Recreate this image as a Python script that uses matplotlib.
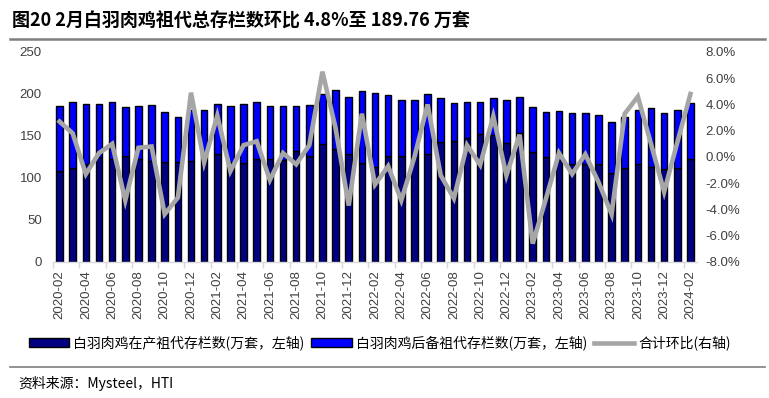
import matplotlib
matplotlib.use("Agg")
import matplotlib.pyplot as plt
from matplotlib.lines import Line2D
from matplotlib.patches import Patch
import numpy as np

plt.rcParams['font.family'] = ['Liberation Sans', 'Noto Sans CJK SC', 'DejaVu Sans']

months = [f"{y}-{m:02d}" for y in range(2020, 2025) for m in range(1, 13)]
months = [m for m in months if "2020-02" <= m <= "2024-02"]

producing = [108.5, 112, 117, 125, 123, 126, 123, 120, 118.5, 118.5,
             120, 127, 129, 119, 118, 123, 122.6, 121.5, 132.5, 126,
             141, 134.5, 128, 118, 113.5, 126.5, 126, 125, 128, 142.5,
             144, 148, 152, 151, 142, 154, 131, 125.5, 121, 117,
             116.3, 117, 105.6, 112.3, 116.7, 113.5, 110.7, 112.3, 122.6]

total = [186, 190, 187.7, 187.7, 190, 184, 185.7, 186.5, 179, 173,
         181.5, 181, 187.7, 185.7, 187.7, 190, 186, 186, 186, 187.3,
         199.6, 204.8, 196.8, 203.6, 200.8, 198.8, 192.5, 192.5, 200, 195.6,
         189, 190.9, 190, 195.6, 193.3, 196.8, 184.1, 179, 180.2, 177.4,
         177.4, 175.4, 167, 173, 181, 183, 177.8, 181, 189.76]

reserve = [round(t - p, 2) for t, p in zip(total, producing)]

mom_pct = [2.7, 1.8, -1.3, 0.3, 1.0, -3.3, 0.7, 0.8, -4.35, -3.1,
           4.9, -0.4, 3.15, -1.07, 0.9, 1.2, -1.75, 0.3, -0.56, 0.9,
           6.5, 2.2, -3.7, 3.3, -2.1, -0.7, -3.3, 0.0, 4.0, -1.4,
           -3.15, 0.9, -0.6, 3.1, -1.4, 1.7, -6.6, -3.2, 0.3, -1.3,
           0.2, -1.9, -4.35, 3.3, 4.6, 1.0, -2.65, 1.1, 4.8]

title = "图20 2月白羽肉鸡祖代总存栏数环比 4.8%至 189.76 万套"
legend_labels = ["白羽肉鸡在产祖代存栏数(万套，左轴)", "白羽肉鸡后备祖代存栏数(万套，左轴)", "合计环比(右轴)"]
source = "资料来源：Mysteel，HTI"

W, H = 769, 398
fig = plt.figure(figsize=(W / 100, H / 100), dpi=100)
ax = fig.add_axes([53 / W, 1 - 262 / H, (697 - 53) / W, (262 - 52) / H])

x = np.arange(len(months))
c_dark = "#000080"
c_blue = "#0000FF"
c_gray = "#A6A6A6"
tick_color = "#404040"

ax.bar(x, producing, width=0.5, color=c_dark, edgecolor="black", linewidth=1.0, zorder=2)
ax.bar(x, reserve, bottom=producing, width=0.5, color=c_blue, edgecolor="black", linewidth=1.0, zorder=2)
ax.set_xlim(-0.5, len(months) - 0.5)
ax.set_ylim(0, 250)
ax.set_yticks(np.arange(0, 251, 50))
ax.tick_params(axis='y', length=0, labelsize=9.5, labelcolor=tick_color, pad=8)

ax.set_xticks(x[::2])
ax.set_xticklabels(months[::2], rotation=90, fontsize=9.5, color=tick_color)
ax.set_xticks(np.arange(-0.5, len(months), 2), minor=True)
ax.tick_params(axis='x', which='major', length=0, pad=6)
ax.tick_params(axis='x', which='minor', length=4, color="#D9D9D9", width=1)

for s in ['top', 'left', 'right']:
    ax.spines[s].set_visible(False)
ax.spines['bottom'].set_color("#D9D9D9")
ax.spines['bottom'].set_linewidth(1)

ax2 = ax.twinx()
ax2.plot(x, mom_pct, color=c_gray, linewidth=3.3, solid_joinstyle='miter', zorder=3)
ax2.set_ylim(-8, 8)
ax2.set_yticks(np.arange(-8, 8.1, 2))
ax2.set_yticklabels([f"{v:.1f}%" for v in np.arange(-8, 8.1, 2)])
ax2.tick_params(axis='y', length=0, labelsize=9.5, labelcolor=tick_color, pad=6)
for s in ['top', 'left', 'right', 'bottom']:
    ax2.spines[s].set_visible(False)

handles = [Patch(facecolor=c_dark, edgecolor="black", linewidth=1.0),
           Patch(facecolor=c_blue, edgecolor="black", linewidth=1.0),
           Line2D([0], [0], color=c_gray, linewidth=3.3)]
fig.legend(handles, legend_labels, loc='center', bbox_to_anchor=(0.494, 1 - 343 / H), ncol=3,
           frameon=False, handlelength=2.9, handleheight=0.6, handletextpad=0.3,
           columnspacing=0.5, prop={'family': ['Noto Sans CJK SC', 'DejaVu Sans'], 'size': 10})

fig.text(12 / W, 1 - 21 / H, title, fontsize=13, fontweight='bold', va='center', ha='left',
         family=['Noto Sans CJK SC', 'DejaVu Sans'])
fig.add_artist(Line2D([10 / W, 765 / W], [1 - 39 / H, 1 - 39 / H], color="#7F7F7F", linewidth=1.8))
fig.add_artist(Line2D([10 / W, 765 / W], [1 - 367 / H, 1 - 367 / H], color="#7F7F7F", linewidth=1.2))
fig.text(18 / W, 1 - 383 / H, source, fontsize=10, va='center', ha='left',
         family=['Noto Sans CJK SC', 'DejaVu Sans'])

fig.savefig("out.png", dpi=100)
